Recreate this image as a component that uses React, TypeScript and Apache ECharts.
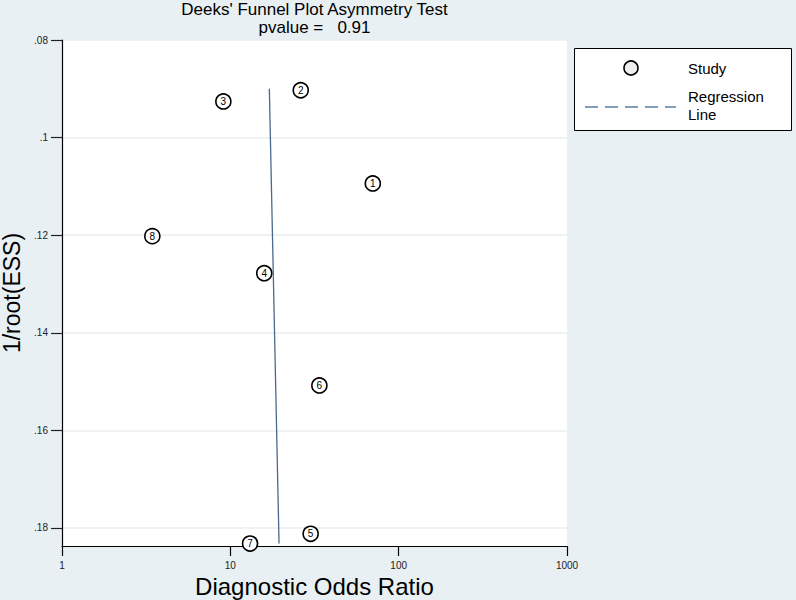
import React, { useEffect, useRef } from "react";
import * as echarts from "echarts";

const studyIds = ["1", "2", "3", "4", "5", "6", "7", "8"];
const studyDOR = [70.2, 26.2, 9.09, 15.9, 30.0, 33.8, 13.1, 3.44];
const studyInvRootESS = [0.1094, 0.0903, 0.0926, 0.1278, 0.1812, 0.1508, 0.1832, 0.1202];
const regressionDOR = [17.05, 19.47];
const regressionY = [0.09, 0.1832];
const yTicks = [0.08, 0.1, 0.12, 0.14, 0.16, 0.18];
const xTicks = [1, 10, 100, 1000];
const titleLines = ["Deeks' Funnel Plot Asymmetry Test", "pvalue =   0.91"];

const FONT = "Arial, 'Liberation Sans', Helvetica, sans-serif";

export default function App() {
  const ref = useRef<HTMLDivElement>(null);
  useEffect(() => {
    if (!ref.current) return;
    const chart = echarts.init(ref.current, null, { renderer: "svg" });
    const option: any = {
      animation: false,
      backgroundColor: "#e9f0f3",
      textStyle: { fontFamily: FONT },
      grid: {
        left: 62,
        right: 229,
        top: 40,
        bottom: 54,
        containLabel: false,
        outerBoundsMode: "none",
        show: true,
        backgroundColor: "#ffffff",
        borderWidth: 0,
      },
      xAxis: {
        type: "log",
        logBase: 10,
        min: 1,
        max: 1000,
        name: "Diagnostic Odds Ratio",
        nameLocation: "middle",
        nameGap: 24,
        nameTextStyle: { fontSize: 24, color: "#000", fontFamily: FONT },
        axisLine: { show: true, lineStyle: { color: "#000", width: 1.2 } },
        axisTick: { show: true, length: 10, lineStyle: { color: "#000", width: 1.2 }, customValues: xTicks },
        axisLabel: { fontSize: 10, color: "#222", margin: 14, customValues: xTicks, formatter: (v: number) => String(Math.round(v)) },
        minorTick: { show: false },
        splitLine: { show: false },
      },
      yAxis: {
        type: "value",
        inverse: true,
        min: 0.08,
        max: 0.1837,
        name: "1/root(ESS)",
        nameLocation: "middle",
        nameGap: 26,
        nameTextStyle: { fontSize: 23, color: "#000", fontFamily: FONT },
        axisLine: { show: true, lineStyle: { color: "#000", width: 1.2 } },
        axisTick: { show: true, length: 11, lineStyle: { color: "#222", width: 1.2 }, customValues: yTicks },
        axisLabel: {
          fontSize: 10,
          color: "#222",
          margin: 14,
          customValues: yTicks,
          formatter: (v: number) => String(+v.toFixed(2)).replace(/^0/, ""),
        },
        splitLine: { show: true, lineStyle: { color: "#e8eef1", width: 1.5 } },
      },
      series: [
        {
          type: "line",
          data: regressionDOR.map((x, i) => [x, regressionY[i]]),
          symbol: "none",
          lineStyle: { color: "#4a6a8c", width: 1.3 },
          clip: false,
          z: 2,
        },
        {
          type: "scatter",
          data: studyDOR.map((x, i) => ({ value: [x, studyInvRootESS[i]], name: studyIds[i] })),
          symbol: "circle",
          symbolSize: 15,
          clip: false,
          itemStyle: { color: "#ffffff", borderColor: "#000", borderWidth: 1.6, opacity: 1 },
          label: {
            show: true,
            position: "inside",
            formatter: (p: any) => p.name,
            fontSize: 10,
            color: "#000",
            fontFamily: FONT,
          },
          z: 3,
        },
      ],
      graphic: [
        {
          type: "text",
          x: 314.5,
          y: 1,
          style: { text: titleLines[0], textAlign: "center", fontSize: 17, fill: "#000", fontFamily: FONT },
        },
        {
          type: "text",
          x: 314.5,
          y: 19,
          style: { text: titleLines[1], textAlign: "center", fontSize: 17, fill: "#000", fontFamily: FONT },
        },
        {
          type: "rect",
          shape: { x: 574.5, y: 48.5, width: 217, height: 82 },
          style: { fill: "#ffffff", stroke: "#000", lineWidth: 1 },
        },
        {
          type: "circle",
          shape: { cx: 631, cy: 68, r: 7 },
          style: { fill: "#eeeeee", stroke: "#000", lineWidth: 1.6 },
        },
        {
          type: "text",
          x: 688,
          y: 61,
          style: { text: "Study", fontSize: 15, fill: "#000", fontFamily: FONT },
        },
        {
          type: "line",
          shape: { x1: 585, y1: 107, x2: 676, y2: 107 },
          style: { stroke: "#5b7fa3", lineWidth: 1.3, lineDash: [13, 7] },
        },
        {
          type: "text",
          x: 688,
          y: 89,
          style: { text: "Regression", fontSize: 15, fill: "#000", fontFamily: FONT },
        },
        {
          type: "text",
          x: 688,
          y: 107,
          style: { text: "Line", fontSize: 15, fill: "#000", fontFamily: FONT },
        },
      ],
    };
    chart.setOption(option);
    return () => chart.dispose();
  }, []);
  return <div ref={ref} style={{ width: 796, height: 600, position: "absolute", left: 0, top: 0 }} />;
}
